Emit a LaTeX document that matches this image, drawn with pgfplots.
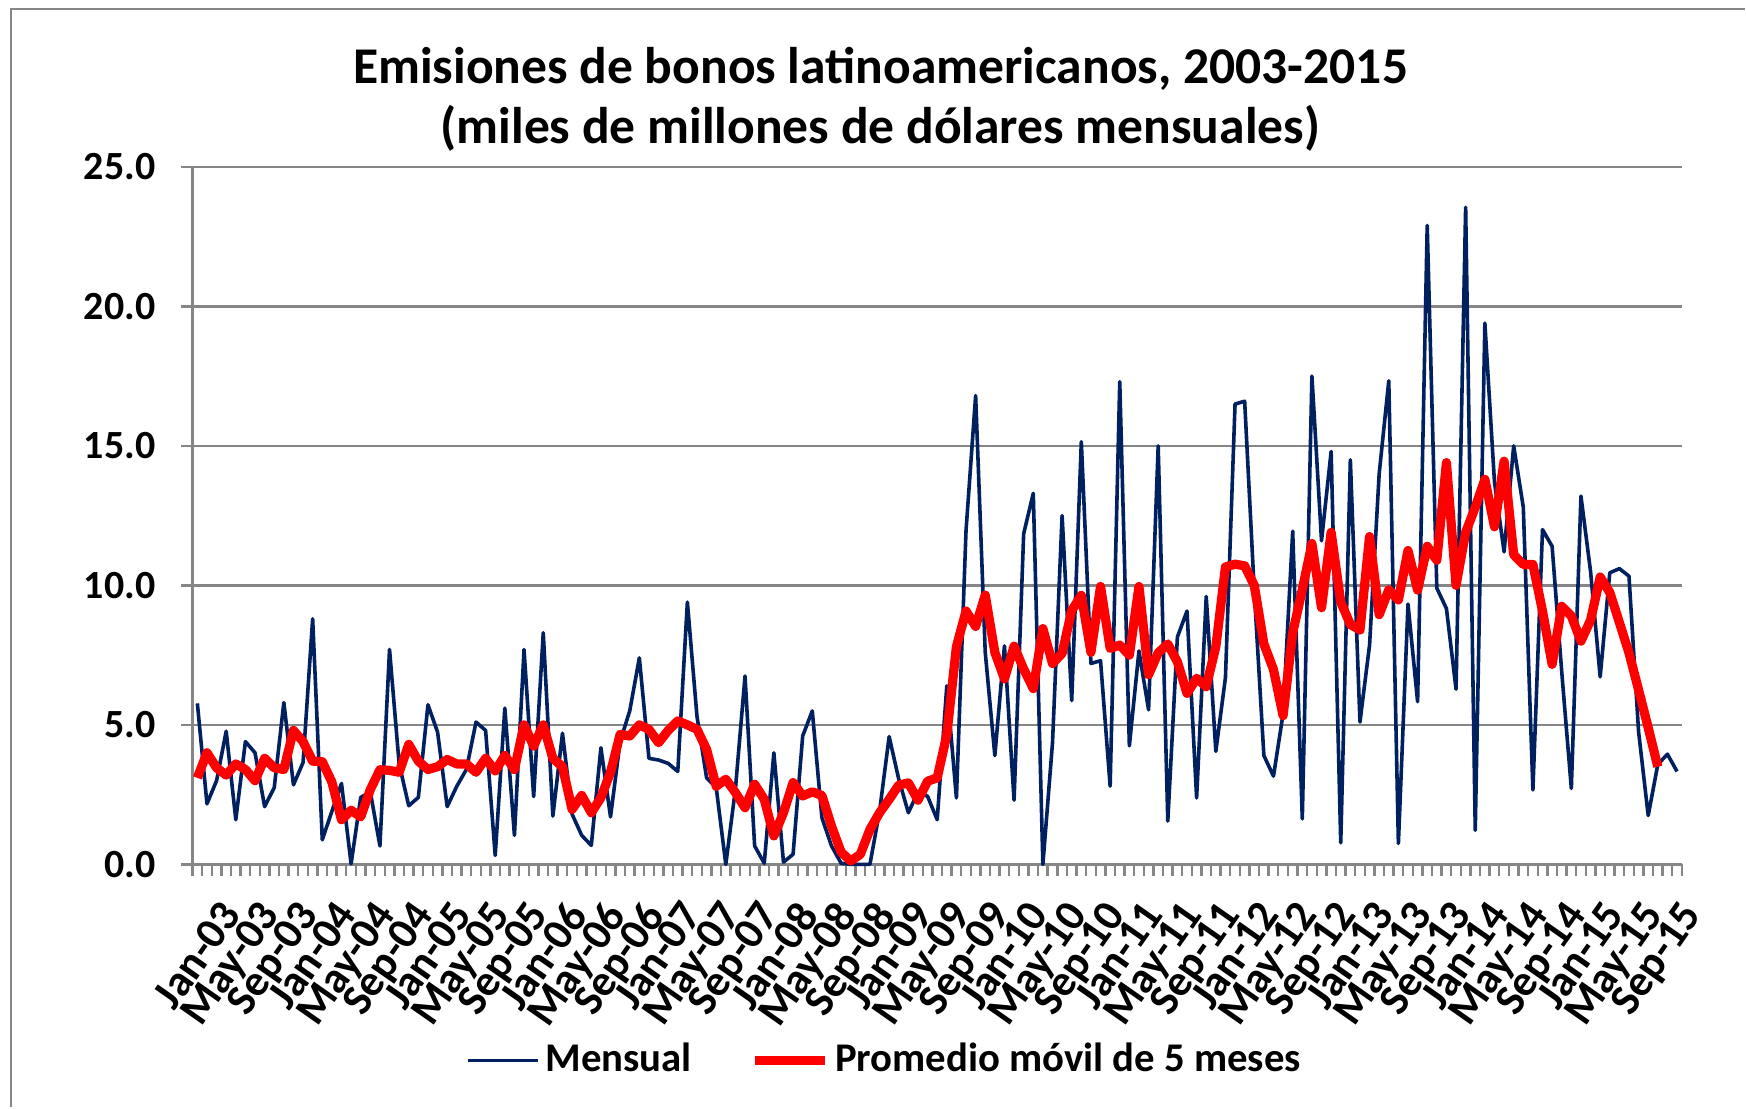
\documentclass[border=0pt]{standalone}
\usepackage{fontspec}
\setmainfont{Carlito}
\usepackage{pgfplots}
\pgfplotsset{compat=1.18}
\definecolor{navy}{RGB}{0,32,96}
\definecolor{gridgray}{RGB}{134,134,134}

\begin{document}
\begin{tikzpicture}
\begin{axis}[
  scale only axis, width=372.6pt, height=174.5pt,
  xmin=-0.5, xmax=154.5, ymin=0, ymax=25,
  clip=false,
  axis x line*=bottom, axis y line*=left,
  axis line style={gridgray, line width=0.6pt},
  ytick={0,5,...,25},
  ymajorgrids, grid style={gridgray, line width=0.6pt},
  tick align=outside,
  major tick length=2.8pt, minor tick length=2.8pt,
  xtick={0,4,...,152},
  minor xtick={-0.5,0.5,...,154.5},
  major x tick style={draw=none},
  minor x tick style={gridgray, line width=0.6pt},
  major y tick style={gridgray, line width=0.6pt},
  xticklabels={Jan-03,May-03,Sep-03,Jan-04,May-04,Sep-04,Jan-05,May-05,Sep-05,
    Jan-06,May-06,Sep-06,Jan-07,May-07,Sep-07,Jan-08,May-08,Sep-08,
    Jan-09,May-09,Sep-09,Jan-10,May-10,Sep-10,Jan-11,May-11,Sep-11,
    Jan-12,May-12,Sep-12,Jan-13,May-13,Sep-13,Jan-14,May-14,Sep-14,
    Jan-15,May-15,Sep-15},
  xticklabel style={font=\fontsize{11}{13}\selectfont\bfseries, rotate=55,
    anchor=north east, inner sep=0pt, xshift=-1.5pt, yshift=-7.5pt},
  yticklabel style={font=\fontsize{10}{12}\selectfont\bfseries, xshift=-3pt},
  /pgf/number format/fixed, /pgf/number format/fixed zerofill,
  /pgf/number format/precision=1, /pgf/number format/assume math mode=true,
  legend style={at={(0.466,-0.2812)}, anchor=center, draw=none, fill=none,
    font=\fontsize{10.2}{12}\selectfont\bfseries, nodes={inner xsep=1.4pt}},
  legend columns=2,
  /tikz/every even column/.append style={column sep=13.2pt},
  legend image code/.code={\draw[#1] (0pt,0pt) -- (17.5pt,0pt);},
]

% Mensual
\addplot[navy, line width=0.9pt, line join=round] coordinates {
(0,5.77) (1,2.17) (2,3.0) (3,4.77) (4,1.6) (5,4.4) (6,4.0) (7,2.07) (8,2.75) (9,5.8)
(10,2.85) (11,3.65) (12,8.8) (13,0.88) (14,1.9) (15,2.9) (16,0.02) (17,2.4) (18,2.6) (19,0.66)
(20,7.7) (21,3.6) (22,2.1) (23,2.4) (24,5.72) (25,4.74) (26,2.07) (27,2.8) (28,3.4) (29,5.1)
(30,4.8) (31,0.32) (32,5.6) (33,1.04) (34,7.7) (35,2.43) (36,8.3) (37,1.73) (38,4.7) (39,1.8)
(40,1.04) (41,0.68) (42,4.18) (43,1.7) (44,4.4) (45,5.5) (46,7.4) (47,3.8) (48,3.74) (49,3.62)
(50,3.33) (51,9.4) (52,5.3) (53,3.1) (54,2.75) (55,0.0) (56,2.7) (57,6.75) (58,0.66) (59,0.04)
(60,4.0) (61,0.08) (62,0.36) (63,4.6) (64,5.5) (65,1.67) (66,0.66) (67,0.04) (68,0.0) (69,0.0)
(70,0.0) (71,1.9) (72,4.58) (73,3.05) (74,1.85) (75,2.6) (76,2.44) (77,1.6) (78,6.4) (79,2.38)
(80,11.96) (81,16.8) (82,7.6) (83,3.9) (84,7.83) (85,2.3) (86,11.85) (87,13.3) (88,0.0) (89,4.35)
(90,12.5) (91,5.87) (92,15.15) (93,7.2) (94,7.3) (95,2.8) (96,17.3) (97,4.25) (98,7.65) (99,5.54)
(100,15.0) (101,1.55) (102,8.15) (103,9.08) (104,2.38) (105,9.6) (106,4.05) (107,6.69) (108,16.5) (109,16.6)
(110,9.8) (111,3.9) (112,3.16) (113,5.4) (114,11.94) (115,1.63) (116,17.5) (117,11.6) (118,14.8) (119,0.77)
(120,14.5) (121,5.1) (122,7.86) (123,14.0) (124,17.33) (125,0.75) (126,9.33) (127,5.83) (128,22.9) (129,9.9)
(130,9.17) (131,6.28) (132,23.55) (133,1.22) (134,19.4) (135,13.7) (136,11.2) (137,15.0) (138,12.8) (139,2.67)
(140,12.0) (141,11.4) (142,6.9) (143,2.72) (144,13.2) (145,10.5) (146,6.72) (147,10.45) (148,10.6) (149,10.33)
(150,4.75) (151,1.75) (152,3.58) (153,3.95) (154,3.33)
};
\addlegendentry{Mensual}

% Promedio movil de 5 meses
\addplot[red, line width=2.3pt, line join=round] coordinates {
(0,3.1) (1,4.0) (2,3.46) (3,3.2) (4,3.6) (5,3.4) (6,3.0) (7,3.8) (8,3.46) (9,3.4)
(10,4.8) (11,4.4) (12,3.7) (13,3.68) (14,2.95) (15,1.6) (16,1.94) (17,1.7) (18,2.68) (19,3.39)
(20,3.37) (21,3.3) (22,4.3) (23,3.7) (24,3.4) (25,3.5) (26,3.76) (27,3.6) (28,3.6) (29,3.3)
(30,3.8) (31,3.35) (32,3.9) (33,3.4) (34,5.0) (35,4.24) (36,5.0) (37,3.8) (38,3.5) (39,1.97)
(40,2.47) (41,1.85) (42,2.39) (43,3.3) (44,4.66) (45,4.6) (46,5.0) (47,4.84) (48,4.36) (49,4.8)
(50,5.14) (51,5.0) (52,4.84) (53,4.12) (54,2.8) (55,3.05) (56,2.57) (57,2.03) (58,2.87) (59,2.33)
(60,1.02) (61,1.85) (62,2.93) (63,2.45) (64,2.6) (65,2.47) (66,1.37) (67,0.44) (68,0.12) (69,0.36)
(70,1.25) (71,1.85) (72,2.33) (73,2.84) (74,2.92) (75,2.3) (76,2.98) (77,3.1) (78,4.64) (79,7.8)
(80,9.08) (81,8.53) (82,9.65) (83,7.6) (84,6.65) (85,7.82) (86,7.0) (87,6.3) (88,8.45) (89,7.2)
(90,7.56) (91,9.1) (92,9.64) (93,7.6) (94,9.96) (95,7.74) (96,7.86) (97,7.5) (98,9.96) (99,6.8)
(100,7.58) (101,7.9) (102,7.26) (103,6.13) (104,6.67) (105,6.37) (106,7.8) (107,10.66) (108,10.76) (109,10.7)
(110,10.0) (111,7.9) (112,6.98) (113,5.33) (114,8.3) (115,9.85) (116,11.5) (117,9.2) (118,11.9) (119,9.4)
(120,8.6) (121,8.4) (122,11.75) (123,8.95) (124,9.84) (125,9.48) (126,11.25) (127,9.83) (128,11.4) (129,10.9)
(130,14.4) (131,10.0) (132,11.9) (133,12.8) (134,13.8) (135,12.1) (136,14.45) (137,11.1) (138,10.75) (139,10.75)
(140,9.08) (141,7.17) (142,9.25) (143,8.9) (144,8.0) (145,8.75) (146,10.3) (147,9.75) (148,8.67) (149,7.58)
(150,6.25) (151,4.9) (152,3.5)
};
\addlegendentry{Promedio móvil de 5 meses}

% title
\node[font=\fontsize{12.9}{15}\selectfont\bfseries, anchor=base]
  at (rel axis cs:0.4619,1.1189) {Emisiones de bonos latinoamericanos, 2003-2015};
\node[font=\fontsize{12.9}{15}\selectfont\bfseries, anchor=base]
  at (rel axis cs:0.4619,1.0330) {(miles de millones de dólares mensuales)};

% chart area frame and page size
\path (rel axis cs:-0.1293,-0.3481) rectangle (rel axis cs:1.0423,1.2393);
\draw[gridgray, line width=0.6pt] (rel axis cs:-0.1219,-0.3481)
  -- (rel axis cs:-0.1219,1.2264) -- (rel axis cs:1.0423,1.2264);
\end{axis}
\end{tikzpicture}
\end{document}
